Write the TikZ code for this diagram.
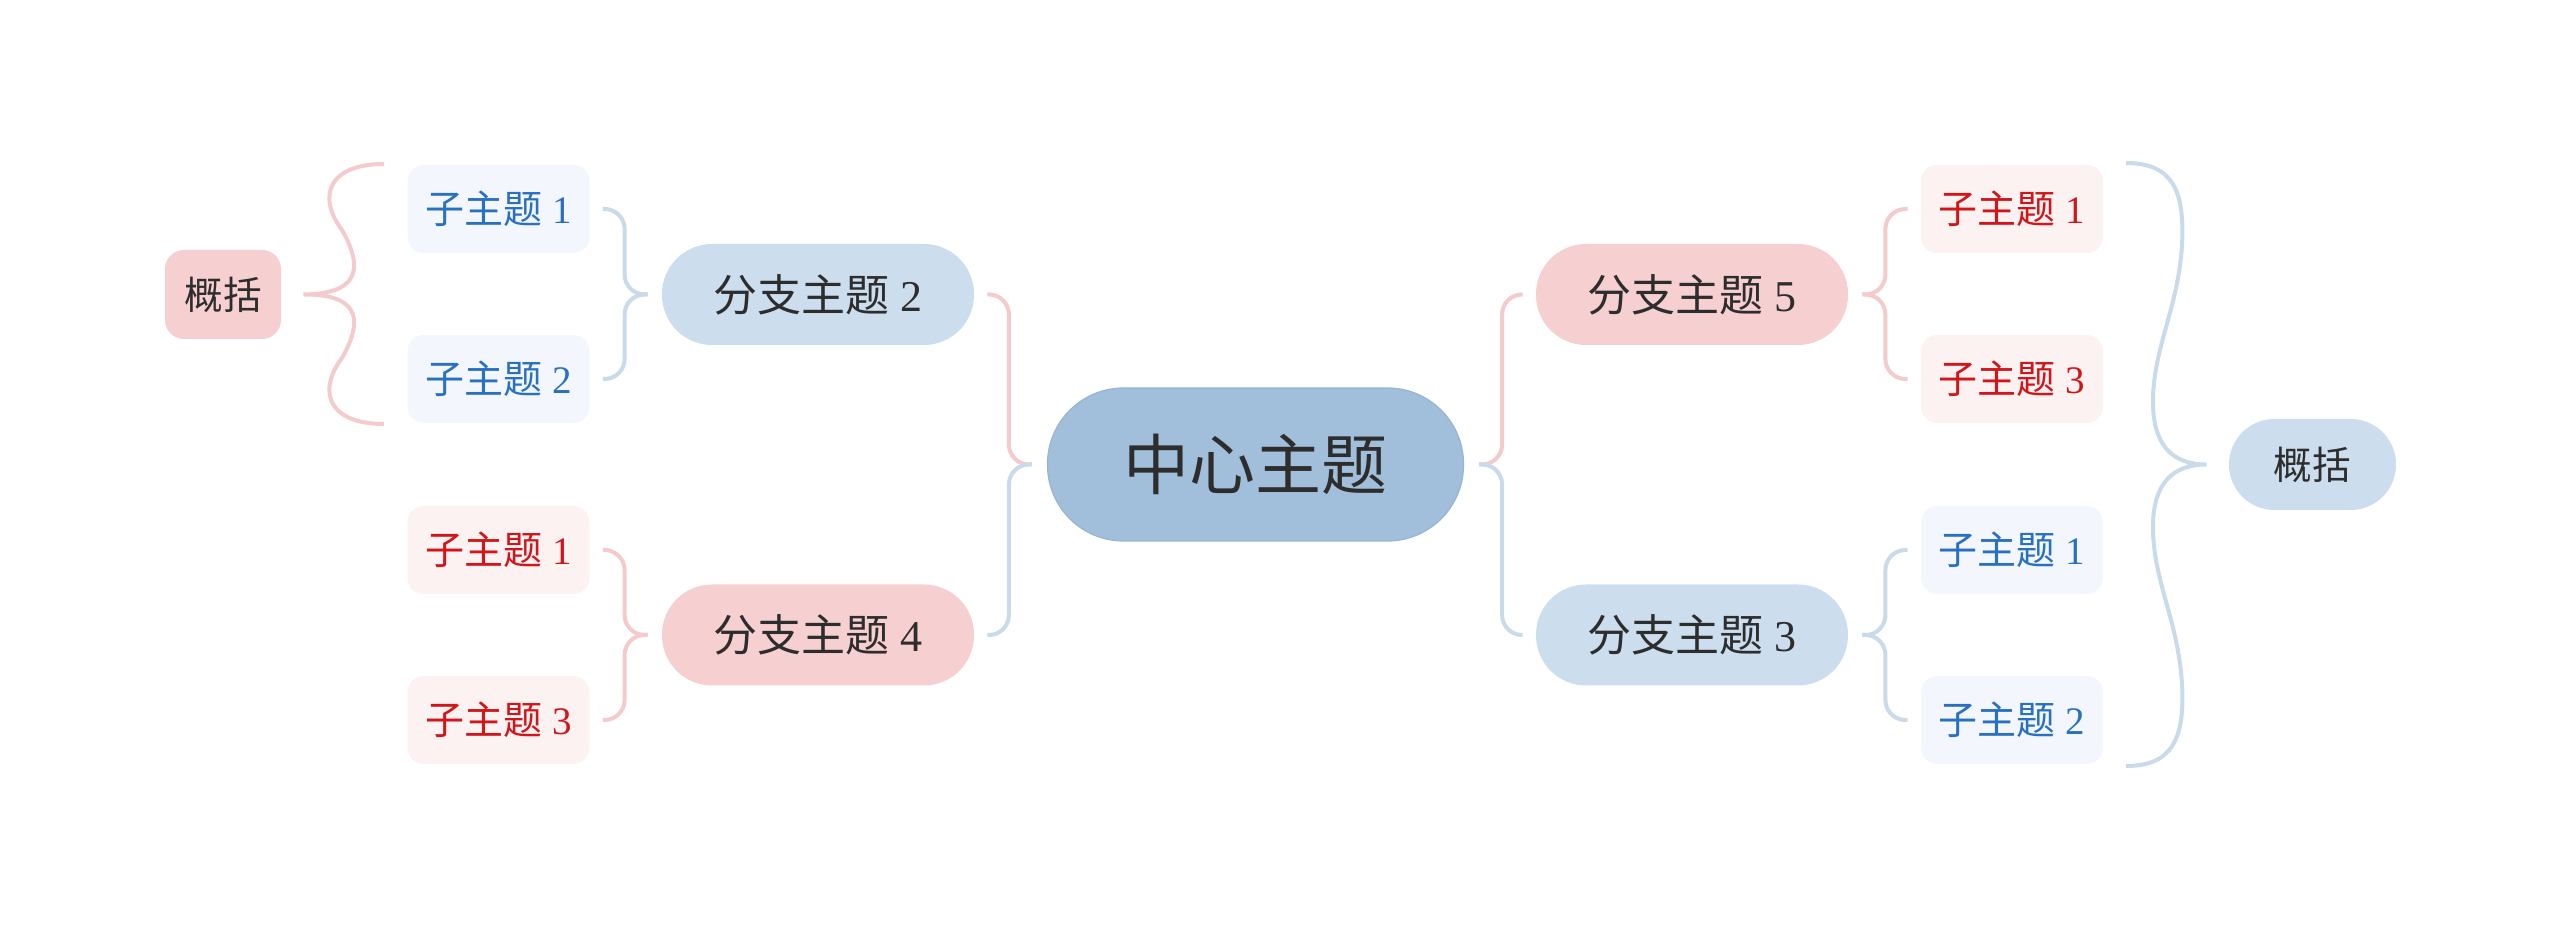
\documentclass[tikz,border=0pt]{standalone}
\usepackage{fontspec}
\setmainfont{Liberation Serif}
\newfontfamily\cjk{Noto Sans CJK SC}
\usetikzlibrary{calc}
\definecolor{cfill}{HTML}{A1BFDB}
\definecolor{cdraw}{HTML}{96B5D2}
\definecolor{bblue}{HTML}{CCDDEE}
\definecolor{bpink}{HTML}{F6CFD0}
\definecolor{sblue}{HTML}{F3F7FD}
\definecolor{spink}{HTML}{FDF2F2}
\definecolor{lblue}{HTML}{C9DAEA}
\definecolor{lpink}{HTML}{F3CBCD}
\definecolor{tred}{HTML}{D0161B}
\definecolor{tblue}{HTML}{2A70C0}
\definecolor{tdark}{HTML}{2D2D2D}
\tikzset{
  central/.style={fill=cfill, draw=cdraw, line width=0.6pt, minimum width=208pt, minimum height=76.5pt, rounded corners=38pt, inner sep=0pt, text=tdark, font=\fontsize{33}{36}\selectfont},
  branchbox/.style={minimum width=156pt, minimum height=50.5pt, rounded corners=25pt, inner sep=0pt, text=tdark, font=\fontsize{22}{24}\selectfont},
  subbox/.style={minimum width=91pt, minimum height=44pt, rounded corners=8pt, inner sep=0pt, font=\fontsize{19.5}{22}\selectfont},
  sumbox/.style={inner sep=0pt, text=tdark, font=\fontsize{19.3}{22}\selectfont},
  pinkline/.style={draw=lpink, line width=2pt, rounded corners=10pt},
  blueline/.style={draw=lblue, line width=2pt, rounded corners=10pt},
  bracepink/.style={draw=lpink, line width=2pt},
  braceblue/.style={draw=lblue, line width=2pt},
}
\begin{document}
\begin{tikzpicture}[x=0.5pt, y=-0.5pt]
\useasboundingbox (0,0) rectangle (2560,929);
% nodes
\node[central] (c) at (1255.5,464.5) {\cjk 中心主题};
\node[branchbox, fill=bblue] (b2) at (818,294.5) {{\cjk 分支主题} 2};
\node[branchbox, fill=bpink] (b4) at (818,635) {{\cjk 分支主题} 4};
\node[branchbox, fill=bpink] (b5) at (1692,294.5) {{\cjk 分支主题} 5};
\node[branchbox, fill=bblue] (b3) at (1692,635) {{\cjk 分支主题} 3};
\node[subbox, fill=sblue, text=tblue] (l1) at (498.5,209) {{\cjk 子主题} 1};
\node[subbox, fill=sblue, text=tblue] (l2) at (498.5,379) {{\cjk 子主题} 2};
\node[subbox, fill=spink, text=tred] (l3) at (498.5,550) {{\cjk 子主题} 1};
\node[subbox, fill=spink, text=tred] (l4) at (498.5,720) {{\cjk 子主题} 3};
\node[subbox, fill=spink, text=tred] (r1) at (2012,209) {{\cjk 子主题} 1};
\node[subbox, fill=spink, text=tred] (r2) at (2012,379) {{\cjk 子主题} 3};
\node[subbox, fill=sblue, text=tblue] (r3) at (2012,550) {{\cjk 子主题} 1};
\node[subbox, fill=sblue, text=tblue] (r4) at (2012,720) {{\cjk 子主题} 2};
\node[sumbox, fill=bpink, minimum width=58pt, minimum height=44.5pt, rounded corners=9.5pt] (sl) at (223,294.5) {\cjk 概括};
\node[sumbox, fill=bblue, minimum width=83.5pt, minimum height=45.5pt, rounded corners=22.7pt] (sr) at (2312.5,464.5) {\cjk 概括};
% central connectors
\draw[pinkline] ($(b2.east)+(13,0)$) -| ($(c.west)+(-38,0)$) -- ($(c.west)+(-15,0)$);
\draw[blueline] ($(b4.east)+(13,0)$) -| ($(c.west)+(-38,0)$) -- ($(c.west)+(-15,0)$);
\draw[pinkline] ($(b5.west)+(-13,0)$) -| ($(c.east)+(38,0)$) -- ($(c.east)+(15,0)$);
\draw[blueline] ($(b3.west)+(-13,0)$) -| ($(c.east)+(38,0)$) -- ($(c.east)+(15,0)$);
% branch to sub connectors
\draw[blueline] ($(l1.east)+(13,0)$) -| ($(b2.west)+(-37,0)$) -- ($(b2.west)+(-14,0)$);
\draw[blueline] ($(l2.east)+(13,0)$) -| ($(b2.west)+(-37,0)$) -- ($(b2.west)+(-14,0)$);
\draw[pinkline] ($(l3.east)+(13,0)$) -| ($(b4.west)+(-37,0)$) -- ($(b4.west)+(-14,0)$);
\draw[pinkline] ($(l4.east)+(13,0)$) -| ($(b4.west)+(-37,0)$) -- ($(b4.west)+(-14,0)$);
\draw[pinkline] ($(r1.west)+(-13,0)$) -| ($(b5.east)+(37,0)$) -- ($(b5.east)+(14,0)$);
\draw[pinkline] ($(r2.west)+(-13,0)$) -| ($(b5.east)+(37,0)$) -- ($(b5.east)+(14,0)$);
\draw[blueline] ($(r3.west)+(-13,0)$) -| ($(b3.east)+(37,0)$) -- ($(b3.east)+(14,0)$);
\draw[blueline] ($(r4.west)+(-13,0)$) -| ($(b3.east)+(37,0)$) -- ($(b3.east)+(14,0)$);
% left summary brace
\coordinate (lbtop) at (384,164);
\coordinate (lbbot) at (384,424);
\coordinate (lbtip) at ($(sl.east)+(22,0)$);
\draw[bracepink] (lbtop) .. controls (330,164) and (316,195) .. (342,230)
  .. controls (366,272) and (355,294) .. (lbtip)
  .. controls (355,294) and (366,316) .. (342,358)
  .. controls (316,393) and (330,424) .. (lbbot);
% right summary brace
\coordinate (rbtop) at (2126,163);
\coordinate (rbbot) at (2126,766);
\coordinate (rbtip) at ($(sr.west)+(-22,0)$);
\draw[braceblue] (rbtop) .. controls (2172,163) and (2185,190) .. (2182,245)
  .. controls (2178,310) and (2152,350) .. (2153,405)
  .. controls (2154,445) and (2172,464.5) .. (rbtip)
  .. controls (2172,464.5) and (2154,484) .. (2153,524)
  .. controls (2152,579) and (2178,619) .. (2182,684)
  .. controls (2185,739) and (2172,766) .. (rbbot);
\end{tikzpicture}
\end{document}
